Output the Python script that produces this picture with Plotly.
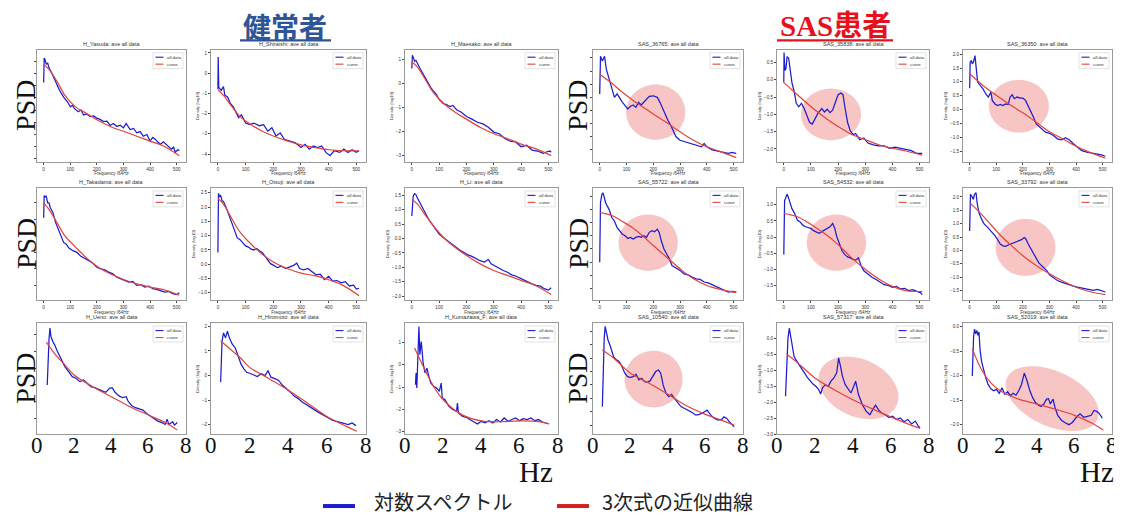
import numpy as np
import plotly.graph_objects as go

PAGE_W, PAGE_H = 1122, 515
OFF = 8                      # browser body margin: the plot starts 8px in
W, H = PAGE_W - OFF, PAGE_H - OFF
BLUE = "#1c1cd0"
RED = "#e2433b"
PINK = "rgba(243,150,150,0.55)"

# ---------------- data ----------------
FIT_F = [0, 20, 50, 80, 120, 160, 200, 250, 300, 350, 400, 450, 510]
FIT_HZ = [0.5, 1.0, 1.5, 2.0, 3.0, 4.0, 5.0, 6.0, 7.0, 7.55]
HZ_TICKS = [0, 2, 4, 6, 8]
F_TICKS = [0, 100, 200, 300, 400, 500]

yasuda_x = [0, 2, 5, 10, 15, 20, 30, 45, 60, 75, 90, 100, 108, 115, 130, 140, 150, 162, 175, 188, 200, 212, 225, 238, 250, 262, 275, 288, 300, 310, 318, 325, 338, 350, 362, 375, 388, 400, 410, 420, 430, 440, 450, 460, 470, 480, 488, 495, 505, 510]
yasuda_y = [0.63, 1.63, 1.57, 1.37, 1.43, 1.23, 1.03, 0.63, 0.30, 0.03, -0.17, -0.37, -0.30, -0.43, -0.57, -0.50, -0.70, -0.66, -0.77, -0.74, -0.83, -0.88, -0.97, -0.95, -1.13, -1.05, -1.17, -1.12, -1.23, -1.05, -1.20, -1.30, -1.25, -1.43, -1.38, -1.57, -1.50, -1.77, -1.62, -1.70, -1.82, -1.90, -1.80, -1.90, -1.98, -2.10, -2.02, -2.23, -2.12, -2.17]
yasuda_fit = [1.37, 1.17, 0.68, 0.10, -0.37, -0.63, -0.90, -1.17, -1.37, -1.57, -1.77, -1.97, -2.37]

shiraishi_x = [0, 1, 3, 5, 12, 20, 25, 35, 45, 55, 65, 75, 85, 100, 115, 130, 150, 165, 180, 195, 210, 225, 240, 260, 280, 300, 315, 330, 345, 360, 375, 390, 405, 420, 440, 455, 470, 485, 500, 510]
shiraishi_y = [-0.80, 0.80, -0.70, -0.73, -0.85, -0.66, -1.10, -1.18, -1.50, -1.66, -1.90, -2.20, -2.06, -2.47, -2.55, -2.47, -2.60, -2.55, -2.87, -2.70, -3.11, -2.95, -3.27, -3.35, -3.44, -3.68, -3.52, -3.76, -3.60, -3.68, -3.60, -3.92, -4.08, -3.84, -3.92, -3.76, -3.92, -3.79, -3.92, -3.84]
shiraishi_fit = [-0.82, -1.10, -1.64, -2.15, -2.55, -2.87, -3.11, -3.35, -3.55, -3.68, -3.79, -3.84, -3.84]

maesako_x = [0, 2, 6, 10, 15, 20, 30, 40, 50, 60, 70, 80, 90, 100, 115, 125, 140, 150, 165, 180, 200, 220, 240, 260, 280, 300, 320, 340, 360, 380, 400, 420, 440, 460, 480, 495, 505, 510]
maesako_y = [0.61, 1.16, 1.05, 0.91, 0.95, 0.82, 0.61, 0.41, 0.20, 0.00, -0.20, -0.34, -0.48, -0.68, -0.86, -0.88, -0.98, -0.93, -1.12, -1.20, -1.39, -1.50, -1.63, -1.70, -1.84, -2.04, -2.11, -2.31, -2.42, -2.45, -2.65, -2.59, -2.79, -2.83, -2.93, -2.86, -2.83, -2.88]
maesako_fit = [0.88, 0.68, 0.14, -0.41, -0.88, -1.22, -1.50, -1.84, -2.11, -2.31, -2.54, -2.72, -3.02]

s36765_x = [0, 3, 10, 18, 25, 35, 45, 55, 65, 75, 85, 95, 105, 115, 125, 135, 145, 155, 165, 175, 185, 200, 215, 225, 235, 245, 255, 265, 275, 285, 300, 320, 340, 360, 380, 390, 400, 420, 440, 460, 480, 495, 510]
s36765_y = [0.13, 1.56, 1.38, 1.56, 1.06, 0.69, 0.38, 0.00, 0.13, -0.06, -0.19, -0.31, -0.44, -0.34, -0.29, -0.38, -0.19, -0.29, -0.19, -0.06, 0.04, 0.06, 0.00, -0.19, -0.44, -0.63, -0.88, -1.06, -1.31, -1.50, -1.63, -1.69, -1.75, -1.81, -1.88, -1.75, -1.88, -2.00, -2.04, -2.09, -2.13, -2.09, -2.14]
s36765_fit = [0.88, 0.73, 0.50, 0.23, -0.08, -0.36, -0.63, -0.96, -1.31, -1.63, -1.88, -2.06, -2.29]

s35838_x = [0, 1, 4, 8, 12, 18, 24, 30, 38, 46, 55, 65, 75, 85, 95, 105, 115, 125, 140, 150, 160, 170, 180, 190, 200, 210, 218, 226, 235, 245, 255, 265, 280, 295, 310, 330, 350, 370, 390, 410, 430, 450, 470, 490, 510]
s35838_y = [-0.08, 0.79, 0.27, 0.32, 0.67, 0.62, 0.27, -0.08, -0.33, -0.68, -0.78, -0.68, -0.83, -1.03, -1.23, -1.28, -1.13, -0.98, -0.83, -0.93, -0.85, -0.95, -0.88, -0.63, -0.43, -0.38, -0.43, -0.83, -1.23, -1.48, -1.58, -1.56, -1.73, -1.68, -1.83, -1.88, -1.91, -1.91, -1.98, -1.95, -1.98, -2.03, -2.05, -2.13, -2.13]
s35838_fit = [-0.08, -0.22, -0.43, -0.64, -0.90, -1.14, -1.35, -1.58, -1.73, -1.88, -1.98, -2.06, -2.18]

s36350_x = [0, 2, 6, 10, 14, 20, 25, 30, 40, 50, 60, 70, 80, 85, 95, 105, 115, 125, 135, 145, 152, 160, 168, 178, 190, 200, 210, 220, 230, 240, 250, 260, 270, 285, 300, 315, 330, 345, 360, 375, 390, 405, 420, 440, 460, 480, 495, 510]
s36350_y = [0.77, 1.71, 1.77, 1.65, 1.71, 1.95, 1.47, 0.99, 0.87, 0.75, 0.57, 0.45, 0.63, 0.33, 0.20, 0.14, 0.18, 0.14, 0.20, 0.18, 0.45, 0.53, 0.39, 0.45, 0.41, 0.41, 0.33, 0.14, -0.04, -0.28, -0.52, -0.60, -0.70, -0.82, -0.86, -0.94, -1.06, -1.10, -1.02, -1.10, -1.24, -1.36, -1.48, -1.54, -1.57, -1.60, -1.64, -1.69]
s36350_fit = [1.29, 1.12, 0.87, 0.65, 0.38, 0.12, -0.12, -0.46, -0.80, -1.06, -1.33, -1.54, -1.76]

takadama_x = [0, 2, 6, 10, 15, 20, 25, 35, 45, 55, 65, 75, 85, 95, 110, 125, 140, 155, 170, 185, 200, 215, 230, 245, 260, 275, 290, 305, 320, 335, 350, 365, 380, 395, 410, 425, 440, 455, 470, 485, 500, 510]
takadama_y = [1.55, 2.22, 2.18, 2.20, 2.00, 2.00, 1.85, 1.70, 1.40, 1.20, 1.00, 0.80, 0.75, 0.63, 0.55, 0.50, 0.38, 0.32, 0.25, 0.17, 0.05, 0.00, -0.03, -0.10, -0.15, -0.25, -0.30, -0.35, -0.40, -0.38, -0.50, -0.48, -0.55, -0.52, -0.60, -0.62, -0.65, -0.70, -0.68, -0.75, -0.78, -0.72]
takadama_fit = [2.00, 1.80, 1.40, 1.00, 0.66, 0.34, 0.08, -0.15, -0.32, -0.45, -0.55, -0.63, -0.80]

otsuji_x = [0, 2, 6, 10, 15, 20, 30, 40, 50, 60, 70, 80, 90, 100, 110, 120, 130, 140, 150, 160, 170, 180, 190, 200, 215, 230, 245, 260, 275, 285, 295, 310, 325, 340, 355, 370, 385, 400, 415, 430, 445, 460, 475, 490, 500, 510]
otsuji_y = [0.41, 2.48, 2.37, 2.40, 2.22, 2.20, 1.98, 1.70, 1.42, 1.14, 0.92, 0.86, 0.75, 0.64, 0.60, 0.53, 0.50, 0.55, 0.47, 0.41, 0.28, 0.13, 0.02, -0.03, -0.12, -0.07, -0.15, -0.09, -0.03, 0.04, -0.15, -0.20, -0.15, -0.26, -0.37, -0.35, -0.54, -0.42, -0.59, -0.57, -0.65, -0.61, -0.76, -0.73, -0.87, -0.84]
otsuji_fit = [2.31, 2.10, 1.60, 1.12, 0.70, 0.35, 0.08, -0.15, -0.31, -0.40, -0.54, -0.73, -1.10]

li_x = [0, 2, 5, 10, 15, 20, 30, 40, 50, 60, 70, 80, 90, 100, 115, 130, 145, 160, 175, 190, 205, 220, 235, 250, 265, 280, 290, 305, 320, 335, 350, 365, 380, 395, 410, 425, 440, 455, 470, 485, 500, 510]
li_y = [0.78, 1.35, 1.46, 1.55, 1.52, 1.41, 1.23, 1.06, 0.83, 0.69, 0.55, 0.41, 0.26, 0.15, 0.03, -0.08, -0.19, -0.31, -0.40, -0.48, -0.57, -0.62, -0.71, -0.77, -0.82, -0.73, -0.88, -0.96, -1.03, -1.11, -1.17, -1.26, -1.30, -1.37, -1.45, -1.51, -1.57, -1.62, -1.65, -1.74, -1.79, -1.71]
li_fit = [1.35, 1.20, 0.80, 0.43, 0.00, -0.32, -0.59, -0.88, -1.11, -1.28, -1.45, -1.62, -1.94]

s55722_x = [0, 3, 8, 12, 16, 22, 28, 35, 45, 55, 65, 75, 85, 95, 105, 115, 125, 135, 145, 155, 165, 175, 185, 195, 205, 215, 222, 230, 240, 250, 260, 270, 280, 290, 300, 315, 330, 345, 360, 375, 390, 405, 420, 435, 450, 465, 480, 495, 510]
s55722_y = [0.00, 2.25, 2.56, 2.63, 2.50, 2.25, 2.13, 2.00, 1.69, 1.56, 1.31, 1.19, 1.06, 1.00, 0.90, 0.94, 0.88, 0.94, 0.98, 0.94, 1.00, 0.94, 1.13, 1.19, 1.15, 1.25, 1.13, 0.81, 0.50, 0.31, 0.13, -0.13, -0.19, -0.23, -0.31, -0.44, -0.48, -0.56, -0.63, -0.65, -0.75, -0.78, -0.85, -0.90, -0.98, -1.03, -1.13, -1.10, -1.13]
s55722_fit = [1.88, 1.84, 1.75, 1.57, 1.32, 1.00, 0.63, 0.19, -0.25, -0.63, -0.88, -1.03, -1.15]

s54532_x = [0, 3, 8, 12, 16, 22, 30, 40, 50, 60, 70, 80, 90, 100, 110, 120, 130, 140, 150, 160, 170, 180, 188, 195, 205, 215, 225, 235, 245, 255, 265, 275, 285, 295, 310, 325, 340, 355, 370, 385, 400, 415, 430, 445, 460, 475, 490, 505, 510]
s54532_y = [-0.54, 1.13, 1.23, 1.33, 1.25, 1.08, 0.88, 0.73, 0.53, 0.47, 0.37, 0.32, 0.30, 0.27, 0.20, 0.17, 0.12, 0.17, 0.22, 0.27, 0.32, 0.42, 0.27, 0.02, -0.23, -0.43, -0.54, -0.61, -0.64, -0.69, -0.71, -0.64, -0.89, -1.04, -1.14, -1.24, -1.31, -1.39, -1.47, -1.49, -1.55, -1.52, -1.60, -1.58, -1.65, -1.62, -1.68, -1.72, -1.78]
s54532_fit = [0.73, 0.70, 0.63, 0.50, 0.28, 0.05, -0.23, -0.64, -0.99, -1.29, -1.52, -1.65, -1.68]

s33792_x = [0, 3, 8, 14, 18, 24, 28, 35, 45, 55, 65, 75, 85, 95, 105, 115, 125, 135, 145, 155, 165, 175, 185, 195, 205, 212, 220, 230, 240, 250, 260, 270, 280, 290, 300, 315, 330, 345, 360, 375, 390, 405, 420, 435, 450, 465, 480, 495, 510]
s33792_y = [0.73, 2.10, 2.03, 1.91, 2.10, 2.16, 1.79, 1.41, 1.17, 0.98, 0.89, 0.79, 0.67, 0.55, 0.40, 0.24, 0.17, 0.15, 0.20, 0.24, 0.27, 0.32, 0.36, 0.40, 0.48, 0.42, 0.24, 0.05, -0.14, -0.32, -0.47, -0.57, -0.67, -0.76, -0.92, -1.04, -1.13, -1.19, -1.25, -1.29, -1.34, -1.38, -1.41, -1.44, -1.46, -1.50, -1.46, -1.51, -1.56]
s33792_fit = [1.79, 1.60, 1.29, 0.96, 0.52, 0.15, -0.20, -0.57, -0.88, -1.15, -1.38, -1.54, -1.66]

ueno_x = [0.55, 0.57, 0.60, 0.65, 0.70, 0.75, 0.85, 0.95, 1.1, 1.3, 1.5, 1.7, 1.9, 2.1, 2.3, 2.5, 2.7, 2.9, 3.1, 3.3, 3.5, 3.7, 3.9, 4.05, 4.2, 4.4, 4.6, 4.8, 4.9, 5.1, 5.3, 5.5, 5.7, 5.9, 6.1, 6.3, 6.5, 6.7, 6.9, 7.0, 7.1, 7.3, 7.4, 7.55]
ueno_y = [0.0, 0.4, 0.8, 1.4, 1.7, 1.45, 1.3, 1.2, 1.0, 0.75, 0.55, 0.4, 0.25, 0.2, 0.1, 0.15, 0.05, -0.05, -0.08, -0.12, -0.18, -0.22, -0.10, -0.08, -0.22, -0.32, -0.38, -0.35, -0.48, -0.62, -0.68, -0.72, -0.75, -0.85, -0.92, -1.0, -1.08, -1.12, -1.18, -1.02, -1.18, -1.10, -1.20, -1.12]
ueno_fit = [1.28, 0.90, 0.60, 0.30, -0.05, -0.35, -0.65, -0.90, -1.15, -1.35]

hiromoto_x = [0.5, 0.53, 0.57, 0.65, 0.75, 0.85, 0.95, 1.1, 1.25, 1.4, 1.55, 1.7, 1.85, 2.0, 2.2, 2.4, 2.6, 2.8, 2.95, 3.1, 3.3, 3.5, 3.7, 3.9, 4.1, 4.3, 4.5, 4.7, 4.9, 5.1, 5.3, 5.5, 5.7, 5.9, 6.1, 6.3, 6.5, 6.7, 6.9, 7.1, 7.3, 7.5]
hiromoto_y = [-0.27, 1.0, 1.4, 1.73, 1.53, 1.8, 1.53, 1.27, 1.13, 0.8, 0.47, 0.27, 0.13, 0.09, 0.04, -0.04, 0.07, 0.0, 0.2, -0.07, -0.13, -0.2, -0.4, -0.53, -0.67, -0.84, -0.93, -1.07, -1.16, -1.27, -1.37, -1.47, -1.56, -1.67, -1.73, -1.83, -1.87, -1.91, -1.96, -2.0, -1.93, -2.04]
hiromoto_fit = [1.40, 1.07, 0.73, 0.33, -0.13, -0.60, -1.13, -1.67, -2.07, -2.27]

kumazawa_x = [0.55, 0.58, 0.62, 0.68, 0.73, 0.78, 0.85, 0.9, 0.95, 1.05, 1.15, 1.25, 1.35, 1.5, 1.65, 1.8, 1.9, 1.95, 2.1, 2.3, 2.5, 2.7, 2.75, 2.8, 3.0, 3.2, 3.4, 3.6, 3.8, 4.0, 4.2, 4.4, 4.6, 4.8, 5.0, 5.2, 5.4, 5.6, 5.8, 6.0, 6.2, 6.4, 6.6, 6.8, 7.0, 7.2, 7.4, 7.55]
kumazawa_y = [-0.9, -0.37, -1.04, 0.3, 1.72, 0.45, 1.04, 0.6, 0.07, -0.37, -0.15, -0.52, -0.82, -0.97, -1.04, -1.19, -0.82, -1.49, -1.57, -1.87, -2.01, -2.09, -1.72, -2.16, -2.31, -2.36, -2.46, -2.57, -2.66, -2.54, -2.61, -2.51, -2.61, -2.46, -2.57, -2.39, -2.54, -2.46, -2.39, -2.51, -2.42, -2.46, -2.39, -2.51, -2.46, -2.57, -2.61, -2.66]
kumazawa_fit = [0.75, -0.15, -0.97, -1.57, -2.25, -2.52, -2.56, -2.52, -2.55, -2.65]

s10540_x = [0.5, 0.52, 0.56, 0.6, 0.65, 0.72, 0.8, 0.9, 1.0, 1.1, 1.25, 1.4, 1.55, 1.7, 1.85, 2.0, 2.15, 2.3, 2.45, 2.6, 2.75, 2.9, 3.05, 3.2, 3.35, 3.5, 3.62, 3.75, 3.9, 4.05, 4.2, 4.35, 4.5, 4.7, 4.9, 5.1, 5.3, 5.5, 5.7, 5.9, 6.1, 6.3, 6.5, 6.7, 6.9, 7.0, 7.15, 7.3, 7.45, 7.55]
s10540_y = [-0.81, -0.13, 1.0, 1.75, 2.19, 1.88, 1.69, 1.5, 1.25, 1.06, 0.94, 0.88, 0.69, 0.44, 0.31, 0.28, 0.31, 0.4, 0.19, 0.25, 0.13, 0.1, 0.15, 0.31, 0.5, 0.56, 0.44, 0.0, -0.31, -0.44, -0.35, -0.5, -0.65, -0.81, -0.88, -0.94, -1.03, -1.13, -1.1, -1.03, -0.94, -1.13, -1.25, -1.31, -1.28, -1.19, -1.25, -1.38, -1.48, -1.56]
s10540_fit = [1.31, 1.06, 0.75, 0.44, 0.06, -0.35, -0.78, -1.10, -1.35, -1.50]

s57317_x = [0.45, 0.48, 0.52, 0.58, 0.65, 0.72, 0.8, 0.9, 1.0, 1.15, 1.3, 1.45, 1.6, 1.75, 1.9, 2.05, 2.2, 2.3, 2.4, 2.55, 2.7, 2.85, 3.0, 3.15, 3.25, 3.35, 3.45, 3.6, 3.75, 3.9, 4.05, 4.15, 4.3, 4.5, 4.7, 4.9, 5.05, 5.2, 5.35, 5.5, 5.7, 5.9, 6.1, 6.3, 6.5, 6.7, 6.9, 7.1, 7.3, 7.45, 7.55]
s57317_y = [-1.8, -1.39, -0.5, 0.02, 0.33, 0.07, -0.29, -0.55, -0.66, -0.81, -0.92, -1.07, -1.21, -1.33, -1.42, -1.49, -1.59, -1.73, -1.54, -1.44, -1.49, -1.33, -1.23, -1.07, -0.6, -0.86, -1.17, -1.44, -1.59, -1.7, -1.49, -1.33, -1.75, -2.06, -2.27, -2.38, -2.22, -2.08, -2.22, -2.32, -2.38, -2.46, -2.43, -2.53, -2.48, -2.6, -2.53, -2.67, -2.58, -2.74, -2.79]
s57317_fit = [-0.48, -0.71, -0.97, -1.23, -1.59, -1.91, -2.19, -2.45, -2.69, -2.81]

s52019_x = [0.5, 0.53, 0.57, 0.62, 0.68, 0.74, 0.8, 0.86, 0.92, 1.0, 1.1, 1.2, 1.35, 1.5, 1.65, 1.8, 1.95, 2.1, 2.25, 2.4, 2.55, 2.7, 2.85, 3.0, 3.15, 3.3, 3.45, 3.6, 3.75, 3.9, 4.05, 4.2, 4.35, 4.5, 4.6, 4.7, 4.85, 4.95, 5.1, 5.3, 5.5, 5.7, 5.9, 6.1, 6.3, 6.5, 6.7, 6.9, 7.05, 7.2, 7.35, 7.5]
s52019_y = [-1.01, -0.55, -0.21, -0.05, -0.15, -0.08, -0.18, -0.11, -0.48, -0.71, -0.88, -1.01, -1.18, -1.27, -1.31, -1.28, -1.36, -1.25, -1.38, -1.33, -1.41, -1.36, -1.4, -1.31, -1.18, -0.95, -1.11, -1.31, -1.45, -1.55, -1.6, -1.63, -1.58, -1.48, -1.47, -1.58, -1.48, -1.65, -1.81, -1.91, -1.96, -2.0, -1.95, -1.85, -1.78, -1.85, -1.83, -1.81, -1.71, -1.73, -1.78, -1.87]
s52019_fit = [-0.45, -0.88, -1.15, -1.31, -1.48, -1.58, -1.69, -1.81, -1.98, -2.11]

TITLES = [
    "H_Yasuda: ave all data", "H_Shiraishi: ave all data", "H_Maesako: ave all data",
    "SAS_36765: ave all data", "SAS_35838: ave all data", "SAS_36350: ave all data",
    "H_Takadama: ave all data", "H_Otsuji: ave all data", "H_Li: ave all data",
    "SAS_55722: ave all data", "SAS_54532: ave all data", "SAS_33792: ave all data",
    "H_Ueno: ave all data", "H_Hiromoto: ave all data", "H_Kumazawa_F: ave all data",
    "SAS_10540: ave all data", "SAS_57317: ave all data", "SAS_52019: ave all data",
]
Y_RANGES = [
    [-2.63, 1.97], [-4.4, 1.16], [-3.29, 1.39], [-2.46, 1.81], [-2.38, 0.87], [-1.9, 2.16],
    [-0.95, 2.45], [-1.26, 2.67], [-2.14, 1.75], [-1.44, 2.81], [-1.95, 1.52], [-1.87, 2.34],
    [-1.48, 1.85], [-2.4, 2.13], [-3.13, 1.87], [-1.85, 2.31], [-3.0, 0.49], [-2.2, 0.07],
]
Y_TICKS = [
    [-2.5, -2, -1.5, -1, -0.5, 0, 0.5, 1, 1.5], [-4, -3, -2, -1, 0, 1], [-3, -2, -1, 0, 1],
    [-2, -1.5, -1, -0.5, 0, 0.5, 1, 1.5], [-2, -1.5, -1, -0.5, 0, 0.5], [-1.5, -1, -0.5, 0, 0.5, 1, 1.5, 2],
    [-0.5, 0, 0.5, 1, 1.5, 2], [-1, -0.5, 0, 0.5, 1, 1.5, 2, 2.5], [-2, -1.5, -1, -0.5, 0, 0.5, 1, 1.5],
    [-1, -0.5, 0, 0.5, 1, 1.5, 2, 2.5], [-1.5, -1, -0.5, 0, 0.5, 1], [-1.5, -1, -0.5, 0, 0.5, 1, 1.5, 2],
    [-1, -0.5, 0, 0.5, 1, 1.5], [-2, -1, 0, 1, 2], [-3, -2, -1, 0, 1],
    [-1.5, -1, -0.5, 0, 0.5, 1, 1.5, 2], [-3, -2.5, -2, -1.5, -1, -0.5, 0], [-2, -1.5, -1, -0.5, 0],
]
INT_TICKS = [1, 2, 13, 14]
# highlighted regions: (panel index, centre x, centre y, semi-axis a px, semi-axis b px, tilt deg)
ELLIPSES = [
    (3, 209, -0.56, 29.6, 27.8, 0), (4, 174, -1.0, 30, 26, 0), (5, 185, 0.12, 30, 26.5, 0),
    (9, 181, 0.74, 29.6, 28.3, 0), (10, 194, -0.17, 29.6, 28.3, 0), (11, 210, 0.11, 29.9, 28.7, 0),
    (15, 3.24, 0.22, 29, 28.5, 0), (16, 4.3, -1.54, 42, 28.7, -25), (17, 4.8, -1.47, 49.8, 27.5, -25),
]

SERIES = [
    (yasuda_x, yasuda_y, yasuda_fit), (shiraishi_x, shiraishi_y, shiraishi_fit),
    (maesako_x, maesako_y, maesako_fit), (s36765_x, s36765_y, s36765_fit),
    (s35838_x, s35838_y, s35838_fit), (s36350_x, s36350_y, s36350_fit),
    (takadama_x, takadama_y, takadama_fit), (otsuji_x, otsuji_y, otsuji_fit),
    (li_x, li_y, li_fit), (s55722_x, s55722_y, s55722_fit),
    (s54532_x, s54532_y, s54532_fit), (s33792_x, s33792_y, s33792_fit),
    (ueno_x, ueno_y, ueno_fit), (hiromoto_x, hiromoto_y, hiromoto_fit),
    (kumazawa_x, kumazawa_y, kumazawa_fit), (s10540_x, s10540_y, s10540_fit),
    (s57317_x, s57317_y, s57317_fit), (s52019_x, s52019_y, s52019_fit),
]

# ---------------- layout geometry (page pixels) ----------------
COL_PX = [(37, 186), (211, 366), (405, 558), (593, 743), (777, 929), (963, 1112)]
ROW_PX = [(50, 163), (189, 302), (325, 437)]
XR_F = [-25, 535]
XR_HZ = [0, 8.02]


def px(xp):
    return (xp - OFF) / W


def py(yp):
    return 1 - (yp - OFF) / H


def fmt(v, integer):
    s = f"{int(v)}" if integer else f"{v:.1f}"
    return s.replace("-", "\u2212")


def note(x, y, text, size, color, family, xanchor="center", yanchor="middle", angle=0):
    return dict(x=px(x), y=py(y), xref="paper", yref="paper", text=text, showarrow=False,
                xanchor=xanchor, yanchor=yanchor, textangle=angle,
                font=dict(size=size, color=color, family=family))


fig = go.Figure()
shapes, annotations = [], []
SMALL = "Liberation Sans, Arial, sans-serif"
SERIF = "Liberation Serif, Times New Roman, serif"

for i, (bx, by, bfit) in enumerate(SERIES):
    r, c = divmod(i, 6)
    k = i + 1
    xa, ya = ("xaxis", "yaxis") if k == 1 else (f"xaxis{k}", f"yaxis{k}")
    xr_, yr_ = (f"x{k}", f"y{k}") if k > 1 else ("x", "y")
    x0, x1 = COL_PX[c]
    y0, y1 = ROW_PX[r]
    fx = FIT_HZ if r == 2 else FIT_F
    xrange = XR_HZ if r == 2 else XR_F

    fig.add_trace(go.Scatter(x=bx, y=by, xaxis=xr_, yaxis=yr_, mode="lines",
                             line=dict(color=BLUE, width=1.25), showlegend=False, hoverinfo="skip"))
    fig.add_trace(go.Scatter(x=fx, y=bfit, xaxis=xr_, yaxis=yr_, mode="lines",
                             line=dict(color=RED, width=1.2, shape="spline"),
                             showlegend=False, hoverinfo="skip"))

    yt = Y_TICKS[i]
    show_y = c not in (0, 3)
    yaxis = dict(domain=[py(y1), py(y0)], anchor=xr_, range=Y_RANGES[i],
                 tickvals=yt, ticktext=[fmt(v, i in INT_TICKS) for v in yt],
                 showticklabels=show_y, tickfont=dict(size=4.6, color="#333", family=SMALL),
                 ticks="outside", ticklen=2, tickwidth=0.6, tickcolor="#444",
                 showline=True, mirror=True, linecolor="#9a9a9a", linewidth=0.8,
                 showgrid=False, zeroline=False)
    if show_y:
        yaxis["title"] = dict(text="Density (log10)", font=dict(size=4.2, color="#333", family=SMALL), standoff=2)
    if r < 2:
        xaxis = dict(domain=[px(x0), px(x1)], anchor=yr_, range=xrange,
                     tickvals=F_TICKS,
                     tickfont=dict(size=4.6, color="#333", family=SMALL),
                     ticks="outside", ticklen=2, tickwidth=0.6, tickcolor="#444",
                     showline=True, mirror=True, linecolor="#9a9a9a", linewidth=0.8,
                     showgrid=False, zeroline=False,
                     title=dict(text="Frequency /64Hz", font=dict(size=4.5, color="#333", family=SMALL), standoff=1))
    else:
        xaxis = dict(domain=[px(x0), px(x1)], anchor=yr_, range=xrange,
                     tickvals=HZ_TICKS, showticklabels=False,
                     ticks="", showline=True, mirror=True, linecolor="#9a9a9a", linewidth=0.8,
                     showgrid=False, zeroline=False)
        # large slide tick labels (Hz) placed on the axis' own scale
        for v in HZ_TICKS:
            annotations.append(dict(x=v, xref=xr_, y=py(448), yref="paper", text=str(v),
                                    showarrow=False, xanchor="center", yanchor="middle",
                                    font=dict(size=23, color="#111", family=SERIF)))
    fig.layout[xa] = xaxis
    fig.layout[ya] = yaxis

    # panel title
    annotations.append(note((x0 + x1) / 2, y0 - 1, TITLES[i], 5.5, "#333", SMALL, yanchor="bottom"))
    # mini legend (matplotlib style)
    lx1, ly0 = x1 - 3, y0 + 3
    lx0, ly1 = lx1 - 30, ly0 + 16
    shapes.append(dict(type="rect", xref="paper", yref="paper", x0=px(lx0), x1=px(lx1),
                       y0=py(ly1), y1=py(ly0), line=dict(color="#d0d0d0", width=0.6),
                       fillcolor="rgba(255,255,255,0.85)", layer="above"))
    for j, (col, lab) in enumerate([(BLUE, "all data"), (RED, "curve")]):
        yy = ly0 + 4.5 + j * 7
        shapes.append(dict(type="line", xref="paper", yref="paper", x0=px(lx0 + 2.5), x1=px(lx0 + 10.5),
                           y0=py(yy), y1=py(yy), line=dict(color=col, width=1.1), layer="above"))
        annotations.append(note(lx0 + 12, yy, lab, 4.4, "#333", SMALL, xanchor="left"))

# highlighted ellipses
for (i, cx, cy, a, b, ang) in ELLIPSES:
    r, c = divmod(i, 6)
    k = i + 1
    x0, x1 = COL_PX[c]
    y0, y1 = ROW_PX[r]
    xrange = XR_HZ if r == 2 else XR_F
    sx = (xrange[1] - xrange[0]) / (x1 - x0)
    sy = (Y_RANGES[i][1] - Y_RANGES[i][0]) / (y1 - y0)
    t = np.linspace(0, 2 * np.pi, 73)
    th = np.radians(ang)
    ex, ey = a * np.cos(t), b * np.sin(t)
    rx = ex * np.cos(th) - ey * np.sin(th)
    ry = ex * np.sin(th) + ey * np.cos(th)
    xs, ys = cx + rx * sx, cy + ry * sy
    path = "M " + " L ".join(f"{u:.4f},{v:.4f}" for u, v in zip(xs, ys)) + " Z"
    shapes.append(dict(type="path", path=path, xref=f"x{k}", yref=f"y{k}",
                       fillcolor=PINK, line=dict(width=0), layer="below"))

# group headings
annotations.append(note(285, 26, "<b>健常者</b>", 28, "#2f5597", "Noto Sans CJK JP"))
shapes.append(dict(type="line", xref="paper", yref="paper", x0=px(240), x1=px(331), y0=py(40.5), y1=py(40.5),
                   line=dict(color="#2f5597", width=2.2)))
annotations.append(note(835, 26, "<b>SAS患者</b>", 29, "#e8101a", "Liberation Serif, Noto Sans CJK JP"))
shapes.append(dict(type="line", xref="paper", yref="paper", x0=px(777), x1=px(893), y0=py(40.5), y1=py(40.5),
                   line=dict(color="#e8101a", width=2.2)))

# PSD labels
for xc in (26, 578):
    for (ya0, ya1) in ROW_PX:
        annotations.append(note(xc, (ya0 + ya1) / 2, "PSD", 28, "#111", SERIF, angle=-90))
# Hz labels
for xc in (536, 1097):
    annotations.append(note(xc, 475, "Hz", 29, "#111", SERIF))

# bottom legend
LEG = [(BLUE, "対数スペクトル", 323, 355, 372), ("#d41f1f", "3次式の近似曲線", 557, 589, 600)]
for col, lab, lx0, lx1, tx in LEG:
    shapes.append(dict(type="line", xref="paper", yref="paper", x0=px(lx0), x1=px(lx1), y0=py(509), y1=py(509),
                       line=dict(color=col, width=4)))
    annotations.append(note(tx, 504, lab, 20, "#222", "Noto Sans CJK JP", xanchor="left"))

fig.update_layout(width=W, height=H, margin=dict(l=0, r=0, t=0, b=0),
                  paper_bgcolor="white", plot_bgcolor="white", showlegend=False,
                  hovermode=False, shapes=shapes, annotations=annotations)
fig.write_html("out.html")
